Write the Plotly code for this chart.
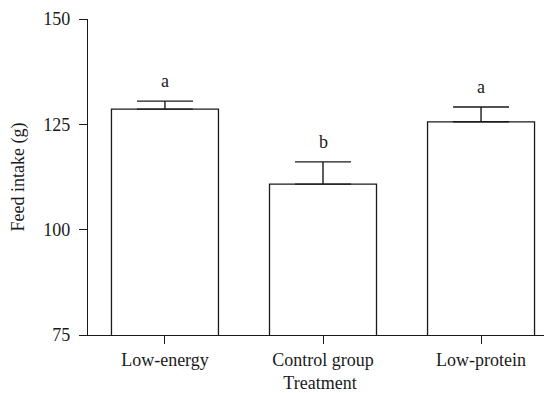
import plotly.graph_objects as go

categories = ["Low-energy", "Control group", "Low-protein"]
feed_intake = [128.6, 110.8, 125.6]
sem = [1.9, 5.3, 3.5]
letters = ["a", "b", "a"]
y_ticks = [75, 100, 125, 150]

FONT = "Liberation Serif"
INK = "#1a1a1a"

fig = go.Figure()
fig.add_trace(go.Bar(
    x=categories,
    y=feed_intake,
    width=0.677,
    marker=dict(color="white", line=dict(color=INK, width=1.3)),
    error_y=dict(type="data", symmetric=False, array=sem,
                 arrayminus=[0] * len(sem), color=INK, thickness=1.4, width=28),
    showlegend=False,
))

for c, v, e, t in zip(categories, feed_intake, sem, letters):
    fig.add_annotation(x=c, y=v + e, text=t, showarrow=False,
                       xanchor="center", yanchor="bottom", yshift=8,
                       font=dict(family=FONT, size=18, color=INK))

# the page body has an 8px default margin, so the figure is 8px smaller
fig.update_layout(
    width=544, height=385,
    margin=dict(l=80, r=0, t=11, b=58),
    paper_bgcolor="white", plot_bgcolor="white",
    font=dict(family=FONT, size=18, color=INK),
    xaxis=dict(type="category", range=[-0.487, 2.449],
               automargin=False,
               showline=True, linecolor=INK, linewidth=1.3,
               ticks="outside", ticklen=8, tickcolor=INK, tickwidth=1.3,
               showgrid=False, zeroline=False,
               title=dict(text="Treatment", standoff=18,
                          font=dict(family=FONT, size=18, color=INK))),
    yaxis=dict(range=[75, 150], tickvals=y_ticks,
               automargin=False,
               showline=True, linecolor=INK, linewidth=1.3,
               ticks="outside", ticklen=8, tickcolor=INK, tickwidth=1.3,
               ticklabelstandoff=5,
               showgrid=False, zeroline=False,
               title=dict(text="Feed intake (g)", standoff=15,
                          font=dict(family=FONT, size=18, color=INK))),
)

fig.write_html("out.html")
